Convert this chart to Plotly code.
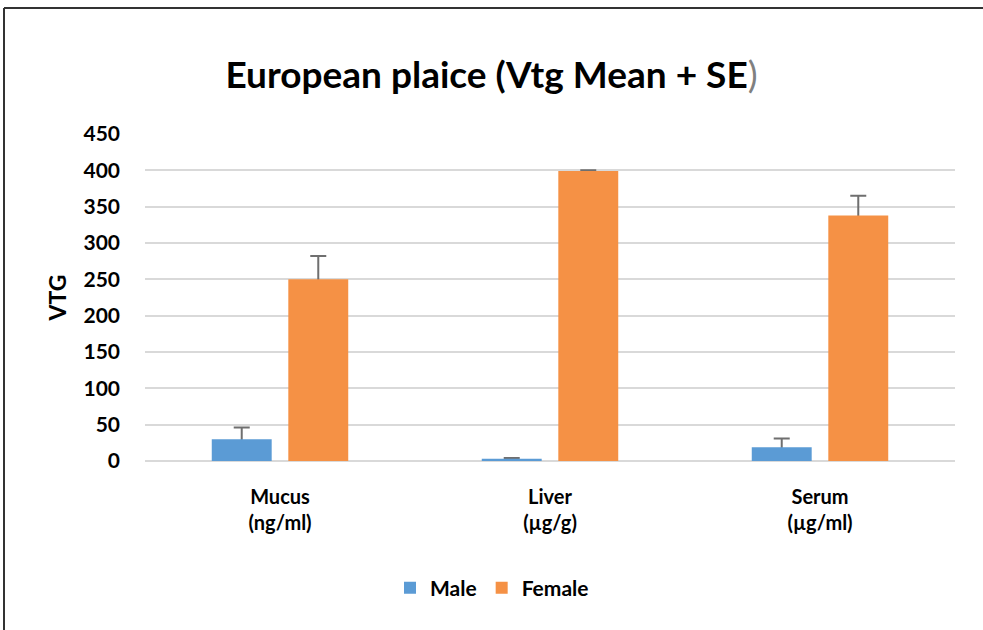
import plotly.graph_objects as go

categories = ["Mucus<br>(ng/ml)", "Liver<br>(µg/g)", "Serum<br>(µg/ml)"]
male_mean = [30, 3, 19]
male_se = [16, 1, 12]
female_mean = [250, 399, 338]
female_se = [32, 1, 27]
y_ticks = [0, 50, 100, 150, 200, 250, 300, 350, 400, 450]

FONT = "Lato, 'Open Sans', sans-serif"
MALE_C = "#5B9BD5"
FEMALE_C = "#F59145"
ERR_C = "#6f6f6f"

fig = go.Figure()
# error bars (drawn first, lower half hidden by the bars drawn on top)
for name, mean, se, grp in [("Male", male_mean, male_se, "m"), ("Female", female_mean, female_se, "f")]:
    fig.add_trace(go.Bar(
        name=name + " SE", x=categories, y=mean, offsetgroup=grp, showlegend=False,
        marker=dict(color="rgba(0,0,0,0)", line=dict(width=0)), hoverinfo="skip",
        error_y=dict(type="data", array=se, symmetric=True, color=ERR_C, thickness=2, width=8),
    ))
fig.add_trace(go.Bar(
    name="<b>Male</b>", x=categories, y=male_mean, offsetgroup="m",
    marker=dict(color=MALE_C, line=dict(width=0)),
))
fig.add_trace(go.Bar(
    name="<b>Female</b>", x=categories, y=female_mean, offsetgroup="f",
    marker=dict(color=FEMALE_C, line=dict(width=0)),
))

L, R, T, B = 145, 28, 134, 169
W, H = 983, 630
pw = W - L - R
ph = H - T - B

fig.update_layout(
    width=W, height=H,
    margin=dict(l=L, r=R, t=T, b=B, autoexpand=False),
    paper_bgcolor="white", plot_bgcolor="white",
    font=dict(family=FONT, color="#000000", size=17),
    title=dict(
        text="<b>European plaice (Vtg Mean + SE</b><span style='color:#808080'>)</span>",
        x=0.5, xanchor="center", xref="container",
        y=1 - 75 / H, yanchor="middle",
        font=dict(family=FONT, size=37, color="#000000"),
    ),
    barmode="group", bargap=0.433, bargroupgap=0.217,
    showlegend=True,
    legend=dict(
        orientation="h", x=(492 - L) / pw, xanchor="center",
        y=-(588 - (T + ph)) / ph, yanchor="middle",
        font=dict(family=FONT, size=21, color="#000000"),
        itemwidth=30, traceorder="normal",
    ),
    xaxis=dict(
        showgrid=False, showline=False, zeroline=False,
        tickfont=dict(family=FONT, size=20, color="#000000"),
        ticks="", ticklabelstandoff=22,
    ),
    yaxis=dict(
        range=[0, 450], tickvals=y_ticks, ticktext=[f"<b>{v}</b>" for v in y_ticks],
        showgrid=True, gridcolor="#d9d9d9", gridwidth=2,
        zeroline=True, zerolinecolor="#d9d9d9", zerolinewidth=2,
        showline=False, ticks="", ticklabelstandoff=24,
        tickfont=dict(family=FONT, size=21, color="#000000"),
        title=dict(text="<b>VTG</b>", font=dict(family=FONT, size=23, color="#000000"), standoff=10),
    ),
)
fig.update_xaxes(tickvals=categories, ticktext=[f"<b>{c}</b>" for c in categories])

# outer frame (left and top edges)
fig.add_shape(type="line", xref="paper", yref="paper",
              x0=(4 - L) / pw, x1=(4 - L) / pw, y0=(T + ph - 8) / ph, y1=-(H - T - ph) / ph,
              line=dict(color="#333333", width=2))
fig.add_shape(type="line", xref="paper", yref="paper",
              x0=(4 - L) / pw, x1=(W - L) / pw, y0=(T + ph - 8) / ph, y1=(T + ph - 8) / ph,
              line=dict(color="#333333", width=2))

fig.write_html("out.html", config={"displayModeBar": False},
               post_script="document.body.style.margin='0';")
